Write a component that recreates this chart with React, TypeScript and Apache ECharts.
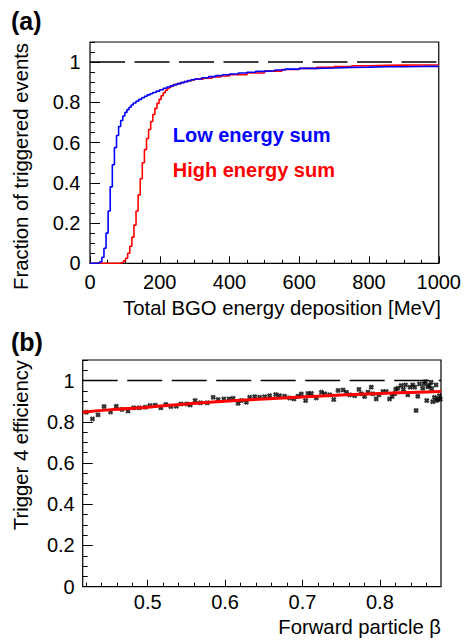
import React, { useEffect, useRef } from "react";
import * as echarts from "echarts";

// ---------- Panel (a): trigger turn-on curves ----------
const blueEnergy = [0, 22, 28, 34, 40, 46, 52, 58, 64, 70, 76, 82, 88, 94, 100, 106, 112, 118, 124, 132, 140, 148, 156, 164, 172, 180, 190, 200, 210, 220, 230, 240, 250, 260, 270, 280, 290, 300, 320, 340, 360, 380, 400, 425, 450, 475, 500, 530, 560, 600, 650, 700, 750, 800, 850, 900, 950, 1000];
const blueFraction = [0, 0.003, 0.008, 0.03, 0.075, 0.15, 0.26, 0.38, 0.49, 0.575, 0.635, 0.68, 0.71, 0.732, 0.75, 0.764, 0.776, 0.787, 0.797, 0.806, 0.815, 0.823, 0.83, 0.837, 0.843, 0.849, 0.856, 0.863, 0.87, 0.876, 0.882, 0.888, 0.893, 0.898, 0.903, 0.908, 0.912, 0.916, 0.922, 0.928, 0.933, 0.937, 0.941, 0.946, 0.95, 0.954, 0.957, 0.961, 0.965, 0.969, 0.971, 0.974, 0.975, 0.977, 0.977, 0.978, 0.979, 0.98];

const redEnergy = [0, 84, 90, 96, 102, 108, 114, 120, 126, 132, 138, 144, 150, 156, 162, 168, 174, 180, 186, 192, 198, 204, 210, 216, 222, 228, 234, 240, 250, 260, 270, 280, 290, 300, 325, 350, 375, 400, 450, 500, 550, 600, 650, 700, 750, 800, 850, 900, 950, 1000];
const redFraction = [0, 0.002, 0.005, 0.012, 0.025, 0.05, 0.085, 0.13, 0.19, 0.26, 0.34, 0.42, 0.5, 0.565, 0.62, 0.665, 0.705, 0.74, 0.77, 0.795, 0.815, 0.833, 0.848, 0.86, 0.87, 0.877, 0.883, 0.888, 0.893, 0.898, 0.903, 0.907, 0.911, 0.915, 0.92, 0.926, 0.931, 0.937, 0.946, 0.955, 0.963, 0.969, 0.974, 0.978, 0.982, 0.984, 0.985, 0.986, 0.986, 0.987];

const energyMajorTicks = [0, 200, 400, 600, 800, 1000];
const fractionMajorTicks = [0, 0.2, 0.4, 0.6, 0.8, 1];

// ---------- Panel (b): trigger 4 efficiency vs beta ----------
const betaValues = [0.4206, 0.4286, 0.4358, 0.4436, 0.452, 0.4594, 0.4667, 0.4745, 0.482, 0.4891, 0.4968, 0.503, 0.5097, 0.517, 0.5234, 0.53, 0.537, 0.543, 0.5506, 0.555, 0.5613, 0.568, 0.5768, 0.5846, 0.591, 0.5984, 0.6052, 0.6104, 0.6168, 0.621, 0.6275, 0.6318, 0.6383, 0.6447, 0.6512, 0.6576, 0.6654, 0.6705, 0.677, 0.6834, 0.689, 0.6942, 0.6985, 0.7041, 0.7071, 0.7114, 0.7179, 0.7245, 0.7288, 0.7352, 0.7404, 0.746, 0.7524, 0.7567, 0.761, 0.7674, 0.773, 0.776, 0.7803, 0.7846, 0.7889, 0.791, 0.7953, 0.7988, 0.8039, 0.8082, 0.8125, 0.8159, 0.8189, 0.8205, 0.8232, 0.8275, 0.8305, 0.8331, 0.8361, 0.8391, 0.8425, 0.845, 0.8468, 0.849, 0.8511, 0.8554, 0.857, 0.8589, 0.8606, 0.862, 0.864, 0.8662, 0.867, 0.8683, 0.8705, 0.8726, 0.8735, 0.8752, 0.877, 0.878];
const efficiencyValues = [0.847, 0.814, 0.834, 0.874, 0.848, 0.875, 0.86, 0.852, 0.868, 0.868, 0.871, 0.879, 0.881, 0.868, 0.884, 0.874, 0.876, 0.887, 0.887, 0.882, 0.903, 0.892, 0.892, 0.919, 0.908, 0.911, 0.911, 0.914, 0.89, 0.903, 0.895, 0.919, 0.922, 0.919, 0.922, 0.927, 0.932, 0.927, 0.924, 0.916, 0.911, 0.924, 0.935, 0.903, 0.938, 0.938, 0.916, 0.944, 0.936, 0.931, 0.908, 0.952, 0.955, 0.944, 0.931, 0.927, 0.957, 0.936, 0.923, 0.944, 0.968, 0.936, 0.911, 0.931, 0.947, 0.947, 0.911, 0.923, 0.936, 0.958, 0.963, 0.976, 0.957, 0.979, 0.931, 0.968, 0.979, 0.968, 0.855, 0.924, 0.984, 0.963, 0.985, 0.995, 0.903, 0.97, 0.976, 0.992, 0.96, 0.898, 0.919, 0.979, 0.903, 0.911, 0.927, 0.91];

const fitBeta = [0.416, 0.45, 0.5, 0.55, 0.6, 0.65, 0.7, 0.75, 0.8, 0.85, 0.879];
const fitEfficiency = [0.847, 0.858, 0.871, 0.887, 0.9, 0.911, 0.921, 0.93, 0.938, 0.944, 0.947];

const betaMajorTicks = [0.5, 0.6, 0.7, 0.8];
const betaMinorTicks = [0.42, 0.44, 0.46, 0.48, 0.5, 0.52, 0.54, 0.56, 0.58, 0.6, 0.62, 0.64, 0.66, 0.68, 0.7, 0.72, 0.74, 0.76, 0.78, 0.8, 0.82, 0.84, 0.86];
const effMajorTicks = [0, 0.2, 0.4, 0.6, 0.8, 1];

const FONT = '"Liberation Sans", Arial, Helvetica, sans-serif';
const BETA_MIN = 0.416;
const BETA_MAX = 0.879;

const zip = (a: number[], b: number[]) => a.map((v, i) => [v, b[i]]);
const plain = (v: number) => String(v);

const xMarker =
  "path://M0,3 L3,0 L5,2 L7,0 L10,3 L8,5 L10,7 L7,10 L5,8 L3,10 L0,7 L2,5 Z";

export default function App() {
  const ref = useRef<HTMLDivElement>(null);

  useEffect(() => {
    if (!ref.current) return;
    const chart = echarts.init(ref.current, undefined, { renderer: "svg" });

    const labelStyle = { color: "#000", fontSize: 20, fontFamily: FONT, formatter: plain };
    const tickLine = { color: "#000", width: 1 };

    const option: any = {
      animation: false,
      backgroundColor: "#fff",
      grid: [
        { left: 90, top: 42, width: 351, height: 221.3, show: true, borderColor: "#000", borderWidth: 1.2, backgroundColor: "transparent" },
        { left: 82.7, top: 360, width: 358.3, height: 226.7, show: true, borderColor: "#000", borderWidth: 1.2, backgroundColor: "transparent" },
      ],
      xAxis: [
        {
          gridIndex: 0, type: "value", min: 0, max: 1000, interval: 200,
          axisLine: { show: false },
          axisTick: { show: true, inside: true, length: 7, lineStyle: tickLine },
          minorTick: { show: true, splitNumber: 4, length: 3.5, lineStyle: tickLine },
          splitLine: { show: false },
          axisLabel: { ...labelStyle, margin: 9, customValues: energyMajorTicks },
        },
        {
          gridIndex: 1, type: "value", min: BETA_MIN, max: BETA_MAX, position: "bottom",
          axisLine: { show: false },
          axisTick: { show: true, inside: true, length: 7, customValues: betaMajorTicks, lineStyle: tickLine },
          splitLine: { show: false },
          axisLabel: { ...labelStyle, margin: 5, customValues: betaMajorTicks },
        },
        {
          gridIndex: 1, type: "value", min: BETA_MIN, max: BETA_MAX, position: "bottom", offset: 0,
          axisLine: { show: false },
          axisTick: { show: true, inside: true, length: 4, customValues: betaMinorTicks, lineStyle: tickLine },
          splitLine: { show: false },
          axisLabel: { show: false },
        },
      ],
      yAxis: [
        {
          gridIndex: 0, type: "value", min: 0, max: 1.1, position: "left",
          axisLine: { show: false },
          axisTick: { show: true, inside: true, length: 10, customValues: fractionMajorTicks, lineStyle: tickLine },
          splitLine: { show: false },
          axisLabel: { ...labelStyle, margin: 9.5, customValues: fractionMajorTicks },
        },
        {
          gridIndex: 0, type: "value", min: 0, max: 1.1, interval: 0.05, position: "left", offset: 0,
          axisLine: { show: false },
          axisTick: { show: true, inside: true, length: 5, lineStyle: tickLine },
          splitLine: { show: false },
          axisLabel: { show: false },
        },
        {
          gridIndex: 1, type: "value", min: 0, max: 1.1, position: "left",
          axisLine: { show: false },
          axisTick: { show: true, inside: true, length: 10, customValues: effMajorTicks, lineStyle: tickLine },
          splitLine: { show: false },
          axisLabel: { ...labelStyle, margin: 8, customValues: effMajorTicks },
        },
        {
          gridIndex: 1, type: "value", min: 0, max: 1.1, interval: 0.05, position: "left", offset: 0,
          axisLine: { show: false },
          axisTick: { show: true, inside: true, length: 5, lineStyle: tickLine },
          splitLine: { show: false },
          axisLabel: { show: false },
        },
      ],
      series: [
        {
          type: "line", xAxisIndex: 0, yAxisIndex: 0, silent: true, showSymbol: false,
          data: [[0, 1], [1000, 1]],
          lineStyle: { color: "#000", width: 1.5, type: [35, 9.5] },
        },
        {
          name: "High energy sum", type: "line", xAxisIndex: 0, yAxisIndex: 0, step: "end", showSymbol: false,
          data: zip(redEnergy, redFraction),
          lineStyle: { color: "#ff0000", width: 1.6 },
        },
        {
          name: "Low energy sum", type: "line", xAxisIndex: 0, yAxisIndex: 0, step: "end", showSymbol: false,
          data: zip(blueEnergy, blueFraction),
          lineStyle: { color: "#0000ff", width: 1.6 },
        },
        {
          type: "line", xAxisIndex: 1, yAxisIndex: 2, silent: true, showSymbol: false,
          data: [[BETA_MIN, 1], [BETA_MAX, 1]],
          lineStyle: { color: "#000", width: 1.5, type: [35, 9.5] },
        },
        {
          type: "scatter", xAxisIndex: 1, yAxisIndex: 2, symbol: xMarker, symbolSize: 5.5,
          data: zip(betaValues, efficiencyValues),
          itemStyle: { color: "#000" },
        },
        {
          type: "line", xAxisIndex: 1, yAxisIndex: 2, smooth: true, showSymbol: false,
          data: zip(fitBeta, fitEfficiency),
          lineStyle: { color: "#ff0000", width: 3 },
        },
      ],
      graphic: [
        { type: "text", x: 11, y: 21, style: { text: "(a)", fill: "#000", fontSize: 25, fontWeight: "bold", fontFamily: FONT, align: "left", verticalAlign: "middle" } },
        { type: "text", x: 11, y: 341.5, style: { text: "(b)", fill: "#000", fontSize: 25, fontWeight: "bold", fontFamily: FONT, align: "left", verticalAlign: "middle" } },
        { type: "text", x: 20.5, y: 43, rotation: Math.PI / 2, style: { text: "Fraction of triggered events", fill: "#000", fontSize: 20.3, fontFamily: FONT, align: "right", verticalAlign: "middle" } },
        { type: "text", x: 21.3, y: 360, rotation: Math.PI / 2, style: { text: "Trigger 4 efficiency", fill: "#000", fontSize: 20.3, fontFamily: FONT, align: "right", verticalAlign: "middle" } },
        { type: "text", x: 441, y: 308.3, style: { text: "Total BGO energy deposition [MeV]", fill: "#000", fontSize: 20.3, fontFamily: FONT, align: "right", verticalAlign: "middle" } },
        { type: "text", x: 441, y: 626.5, style: { text: "Forward particle β", fill: "#000", fontSize: 20.3, fontFamily: FONT, align: "right", verticalAlign: "middle" } },
        { type: "text", x: 172.7, y: 134.7, style: { text: "Low energy sum", fill: "#0000ff", fontSize: 20, fontWeight: "bold", fontFamily: FONT, align: "left", verticalAlign: "middle" } },
        { type: "text", x: 172.7, y: 169.5, style: { text: "High energy sum", fill: "#ff0000", fontSize: 20, fontWeight: "bold", fontFamily: FONT, align: "left", verticalAlign: "middle" } },
      ],
    };

    chart.setOption(option);
    return () => chart.dispose();
  }, []);

  return (
    <div
      ref={ref}
      style={{ position: "absolute", left: 0, top: 0, width: 464, height: 641, background: "#fff" }}
    />
  );
}
